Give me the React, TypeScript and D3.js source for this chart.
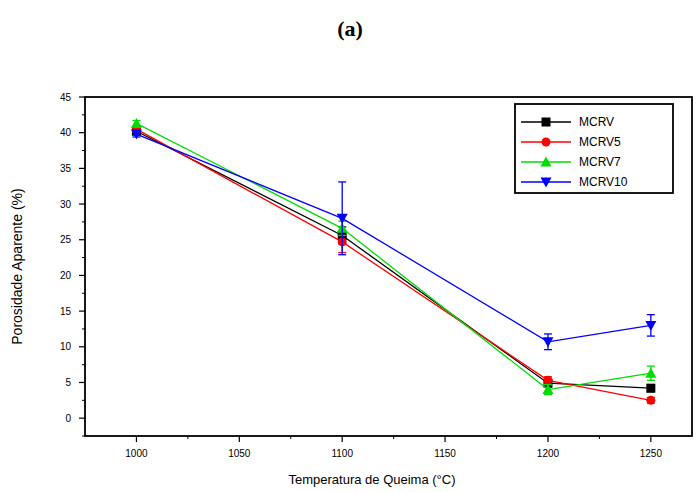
import React from "react";
import * as d3 from "d3";

const temps = [1000, 1100, 1200, 1250];
const seriesNames = ["MCRV", "MCRV5", "MCRV7", "MCRV10"];
const seriesColors = ["#000000", "#ff0000", "#00dd00", "#0000ff"];
const seriesShapes = ["square", "circle", "triangle", "triangleDown"];
const mcrv = [40.2, 25.6, 4.9, 4.2];
const mcrv5 = [40.5, 24.7, 5.3, 2.5];
const mcrv7 = [41.3, 26.6, 4.0, 6.3];
const mcrv10 = [39.8, 28.0, 10.7, 13.0];
const errMcrv = [0.4, 1.2, 0.5, 0.5];
const errMcrv5 = [0.4, 1.5, 0.5, 0.4];
const errMcrv7 = [0.4, 1.0, 0.7, 1.0];
const errMcrv10 = [0.4, 5.1, 1.1, 1.5];
const xTicks = [1000, 1050, 1100, 1150, 1200, 1250];
const xMinor = [1025, 1075, 1125, 1175, 1225];
const yTicks = [0, 5, 10, 15, 20, 25, 30, 35, 40, 45];

const values = [mcrv, mcrv5, mcrv7, mcrv10];
const errs = [errMcrv, errMcrv5, errMcrv7, errMcrv10];

const W = 696, H = 492;
const L = 85, T = 97, R = 692, B = 436;

function Marker({ shape, x, y, color }: { shape: string; x: number; y: number; color: string }) {
  const s = 4.5;
  if (shape === "square") return <rect x={x - s} y={y - s} width={2 * s} height={2 * s} fill={color} />;
  if (shape === "circle") return <circle cx={x} cy={y} r={s} fill={color} />;
  if (shape === "triangle")
    return <path d={`M${x},${y - s - 1}L${x + s + 1},${y + s}L${x - s - 1},${y + s}Z`} fill={color} />;
  return <path d={`M${x},${y + s + 1}L${x + s + 1},${y - s}L${x - s - 1},${y - s}Z`} fill={color} />;
}

export default function App() {
  const x = d3.scaleLinear().domain([975, 1270]).range([L, R]);
  const y = d3.scaleLinear().domain([-2.5, 45]).range([B, T]);
  const line = d3.line<number>().x((_, i) => x(temps[i])).y((v) => y(v));
  const yMinor = d3.range(-2.5, 45, 2.5).filter((v) => v % 5 !== 0);
  const font = "Arial, 'Liberation Sans', sans-serif";

  return (
    <svg width={W} height={H} style={{ position: "absolute", left: 0, top: 0, background: "#fff" }} fontFamily={font}>
      <text x={350} y={36} textAnchor="middle" fontFamily="'Liberation Serif', 'DejaVu Serif', serif" fontWeight="bold" fontSize={22}>
        (a)
      </text>
      <rect x={L} y={T} width={R - L} height={B - T} fill="#fff" stroke="#000" strokeWidth={1.8} />
      {yTicks.map((t) => (
        <g key={"y" + t}>
          <line x1={L - 6} x2={L} y1={y(t)} y2={y(t)} stroke="#000" strokeWidth={1.2} />
          <text x={L - 14} y={y(t) + 3.5} textAnchor="end" fontSize={10}>{t}</text>
        </g>
      ))}
      {yMinor.map((t) => (
        <line key={"ym" + t} x1={L - 3} x2={L} y1={y(t)} y2={y(t)} stroke="#000" strokeWidth={1} />
      ))}
      {xTicks.map((t) => (
        <g key={"x" + t}>
          <line x1={x(t)} x2={x(t)} y1={B} y2={B + 6} stroke="#000" strokeWidth={1.2} />
          <text x={x(t)} y={B + 21} textAnchor="middle" fontSize={10}>{t}</text>
        </g>
      ))}
      {xMinor.map((t) => (
        <line key={"xm" + t} x1={x(t)} x2={x(t)} y1={B} y2={B + 3} stroke="#000" strokeWidth={1} />
      ))}
      <text x={372} y={484} textAnchor="middle" fontSize={13}>Temperatura de Queima (°C)</text>
      <text transform={`translate(22,${(T + B) / 2}) rotate(-90)`} textAnchor="middle" fontSize={14}>
        Porosidade Aparente (%)
      </text>
      {values.map((vals, si) => (
        <g key={"s" + si}>
          <path d={line(vals) || ""} fill="none" stroke={seriesColors[si]} strokeWidth={1.3} />
          {vals.map((v, i) => {
            const e = errs[si][i];
            const cx = x(temps[i]);
            return (
              <g key={i} stroke={seriesColors[si]} strokeWidth={1.3}>
                <line x1={cx} x2={cx} y1={y(v - e)} y2={y(v + e)} />
                <line x1={cx - 4} x2={cx + 4} y1={y(v - e)} y2={y(v - e)} />
                <line x1={cx - 4} x2={cx + 4} y1={y(v + e)} y2={y(v + e)} />
              </g>
            );
          })}
          {vals.map((v, i) => (
            <Marker key={"m" + i} shape={seriesShapes[i] && seriesShapes[si]} x={x(temps[i])} y={y(v)} color={seriesColors[si]} />
          ))}
        </g>
      ))}
      <rect x={515} y={104} width={158} height={89} fill="#fff" stroke="#000" strokeWidth={1.8} />
      {seriesNames.map((n, i) => {
        const ly = 122 + i * 20;
        return (
          <g key={"l" + n}>
            <line x1={521} x2={571} y1={ly} y2={ly} stroke={seriesColors[i]} strokeWidth={1.3} />
            <Marker shape={seriesShapes[i]} x={546} y={ly} color={seriesColors[i]} />
            <text x={579} y={ly + 4} fontSize={12}>{n}</text>
          </g>
        );
      })}
    </svg>
  );
}
